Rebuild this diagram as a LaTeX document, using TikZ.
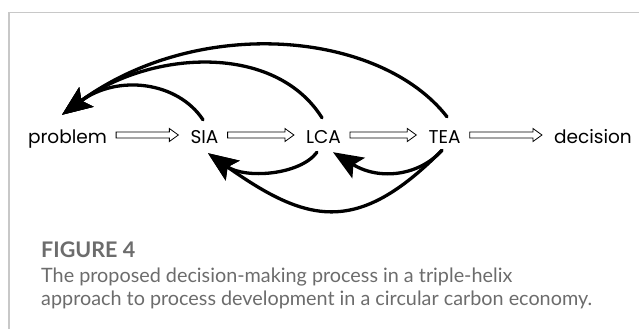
\documentclass[tikz,border=0pt]{standalone}
\usepackage{fontspec}
\newfontfamily\labelfont{Poppins}
\newfontfamily\capfont{Lato}
\usetikzlibrary{arrows.meta,calc}
\definecolor{framegray}{RGB}{200,200,200}
\definecolor{capgray}{RGB}{108,108,108}
\begin{document}
\begin{tikzpicture}[x=1pt,y=-1pt,
  stage/.style={font=\labelfont\fontsize{18.5}{18.5}\selectfont, inner sep=0pt,
    text height=16pt, text depth=0pt, anchor=base},
  % hollow block arrow between two stages
  flow/.style={draw=black, line width=0.8pt, line join=miter,
    to path={let \p1=(\tikztostart), \p2=(\tikztotarget) in
      (\x1+9pt,\y1+3pt) -- (\x2-21pt,\y1+3pt) -- (\x2-21pt,\y1+6.5pt)
      -- (\x2-12pt,\y1) -- (\x2-21pt,\y1-6.5pt) -- (\x2-21pt,\y1-3pt)
      -- (\x1+9pt,\y1-3pt) -- cycle}},
  loop/.style={line width=3.3pt, line cap=round,
    -{Stealth[length=30pt,width=24pt,inset=6pt]}},
  caption/.style={font=\capfont\fontsize{19.8}{19.8}\selectfont, text=capgray,
    inner sep=0pt, anchor=base west}]
\useasboundingbox (0,0) rectangle (639,329);

% panel border
\draw[framegray, line width=1.5pt] (9,329) -- (9,12.5) -- (639,12.5);

% stages
\node[stage] (problem)  at (67.5,143) {problem};
\node[stage] (SIA)      at (204.5,143) {SIA};
\node[stage] (LCA)      at (323.5,143) {LCA};
\node[stage] (TEA)      at (444.5,143) {TEA};
\node[stage] (decision) at (593,143) {decision};

% forward flow
\foreach \a/\b in {problem/SIA, SIA/LCA, LCA/TEA, TEA/decision}
  \draw[flow] (\a.east) to (\b.west);

% feedback tips
\coordinate (hp) at ($(problem.north)+(-5.5,-12)$);
\coordinate (hs) at ($(SIA.south)+(3.5,10)$);
\coordinate (hl) at ($(LCA.south)+(9.5,9)$);

% feedback above: back to the problem
\draw[loop] ($(SIA.north)+(-1.5,-7)$) .. controls +(-25,-38) and +(56,-41) .. (hp);
\draw[loop] ($(LCA.north)+(-1.5,-9)$) .. controls +(-47,-75) and +(89,-65) .. (hp);
\draw[loop] ($(TEA.north)+(2.5,-10)$) .. controls +(-67,-86) and +(137,-100) .. (hp);

% feedback below
\draw[loop] ($(LCA.south)+(-6.5,9)$) .. controls +(-17,23) and +(37,26) .. (hs);
\draw[loop] ($(TEA.south)+(-2.5,7)$) .. controls +(-22,25) and +(47,29) .. (hl);
\draw[loop] ($(TEA.south)+(-2.5,7)$) .. controls +(-85,86) and +(99,70) .. (hs);

% caption
\node[caption, font=\capfont\bfseries\fontsize{21.5}{21.5}\selectfont] (figno) at (41,257) {FIGURE 4};
\node[caption] (cap1) at (41,282) {The proposed decision-making process in a triple-helix};
\node[caption] (cap2) at (41,305) {approach to process development in a circular carbon economy.};
\end{tikzpicture}
\end{document}
